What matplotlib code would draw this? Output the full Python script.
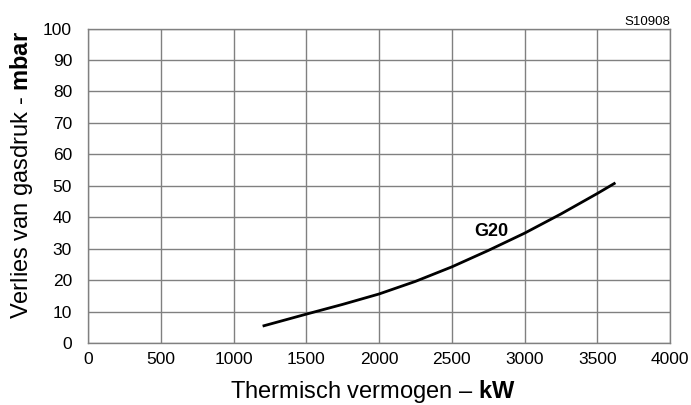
import matplotlib
matplotlib.use('Agg')
import matplotlib.pyplot as plt

# Curve G20
power_kw = [1200, 1500, 1750, 2000, 2250, 2500, 2750, 3000, 3250, 3500, 3625]
pressure_mbar = [5.5, 9.3, 12.4, 15.7, 19.7, 24.3, 29.5, 35.0, 41.1, 47.6, 51.0]

x_ticks = [0, 500, 1000, 1500, 2000, 2500, 3000, 3500, 4000]
y_ticks = [0, 10, 20, 30, 40, 50, 60, 70, 80, 90, 100]

plt.rcParams['font.family'] = ['Liberation Sans', 'DejaVu Sans']
plt.rcParams['mathtext.fontset'] = 'custom'
plt.rcParams['mathtext.rm'] = 'Liberation Sans'
plt.rcParams['mathtext.bf'] = 'Liberation Sans:bold'

fig = plt.figure(figsize=(6.91, 4.05), dpi=100)
ax = fig.add_axes([0.1274, 0.152, 0.8422, 0.7776])

ax.plot(power_kw, pressure_mbar, color='black', lw=2, solid_capstyle='butt',
        solid_joinstyle='round')

ax.set_xlim(0, 4000)
ax.set_ylim(0, 100)
ax.set_xticks(x_ticks)
ax.set_yticks(y_ticks)
ax.tick_params(length=0, labelsize=12.5, colors='black')
ax.tick_params(axis='x', pad=6.5)
ax.tick_params(axis='y', pad=11.5)
ax.grid(True, color='#808080', lw=1)
for s in ax.spines.values():
    s.set_color('#808080')
    s.set_linewidth(1)

ax.text(2775, 35.6, 'G20', fontsize=13, fontweight='bold', ha='center', va='center')

# axis titles placed like in the reference
fig.text(0.540, 0.017, 'Thermisch vermogen – $\\mathbf{kW}$', fontsize=17,
         ha='center', va='baseline')
fig.text(0.0304, 0.5667, 'Verlies van gasdruk - $\\mathbf{mbar}$', fontsize=17,
         rotation=90, ha='center', va='center')
fig.text(0.9696, 0.9457, 'S10908', fontsize=9.5, ha='right', va='center')

fig.savefig('out.png', dpi=100)
